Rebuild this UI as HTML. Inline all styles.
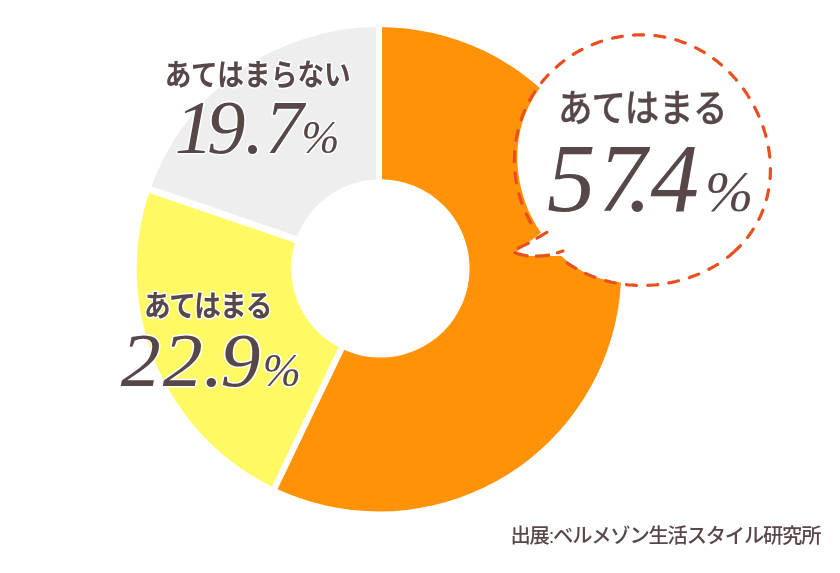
<!DOCTYPE html>
<html lang="ja">
<head>
<meta charset="utf-8">
<title>あてはまる 57.4%</title>
<style>
html,body{margin:0;padding:0;background:#fff;}
body{width:840px;height:573px;overflow:hidden;position:relative;}
svg{position:absolute;left:0;top:0;display:block;}
.lab{font-family:"Liberation Sans","Noto Sans CJK JP",sans-serif;font-weight:700;fill:#574748;}
.num{font-family:"Liberation Serif","Noto Serif CJK JP",serif;font-style:italic;font-weight:400;fill:#574748;}
.ol{paint-order:stroke fill;stroke:#fff;stroke-width:3px;stroke-linejoin:round;}
.lab3{font-weight:500;stroke:#574748;stroke-width:0.3px;stroke-linejoin:round;}
.src{font-family:"Liberation Sans","Noto Sans CJK JP",sans-serif;font-weight:500;fill:#574748;}
</style>
</head>
<body>
<svg width="840" height="573" viewBox="0 0 840 573">
<rect width="840" height="573" fill="#fff"/>
<path d="M379.0 269.2L379.00 26.90A242.3 242.3 0 1 1 274.31 487.71Z" fill="#ff9206"/>
<path d="M379.0 269.2L274.31 487.71A242.3 242.3 0 0 1 149.90 190.31Z" fill="#fffa64"/>
<path d="M379.0 269.2L149.90 190.31A242.3 242.3 0 0 1 379.00 26.90Z" fill="#eeeeee"/>
<line x1="379.00" y1="269.20" x2="379.00" y2="21.00" stroke="#fff" stroke-width="6.2"/>
<line x1="379.30" y1="269.40" x2="272.01" y2="493.51" stroke="#fff" stroke-width="6.3"/>
<line x1="379.00" y1="267.90" x2="143.72" y2="187.36" stroke="#fff" stroke-width="7.0"/>
<circle cx="380.4" cy="268.4" r="89.2" fill="#fff"/>
<path d="M768.1 160.4 768.3 163.7 768.4 167.0 768.4 170.3 768.3 173.7 768.2 177.0 767.9 180.3 767.5 183.6 767.1 186.9 766.5 190.2 765.8 193.5 765.1 196.8 764.2 200.0 763.2 203.3 762.2 206.4 761.0 209.6 759.7 212.7 758.3 215.8 756.9 218.8 755.3 221.8 753.6 224.7 751.9 227.6 750.1 230.4 748.1 233.2 746.1 235.9 744.0 238.5 741.8 241.1 739.6 243.6 737.3 246.0 734.9 248.3 732.4 250.6 729.9 252.8 727.3 254.9 724.7 257.0 722.0 258.9 719.2 260.8 716.5 262.6 713.6 264.3 710.8 266.0 707.9 267.6 704.9 269.0 702.0 270.5 699.0 271.8 695.9 273.1 692.9 274.3 689.8 275.4 686.7 276.4 683.6 277.4 680.5 278.3 677.4 279.1 674.2 279.8 671.0 280.5 667.9 281.1 664.7 281.7 661.5 282.1 658.3 282.5 655.1 282.8 651.9 283.1 648.6 283.3 645.4 283.4 642.2 283.5 639.0 283.5 635.8 283.4 632.5 283.3 629.3 283.1 626.1 282.9 622.9 282.5 619.6 282.2 616.4 281.7 613.2 281.3 610.0 280.7 606.8 280.0 603.6 279.3 600.4 278.5 597.2 277.5 594.1 276.5 591.0 275.4 588.0 274.1 585.0 272.6 582.1 271.0 579.3 269.4 576.5 267.6 573.7 265.8 571.1 263.9 568.4 262.0 565.8 259.9 563.3 257.8 560.9 255.6 558.5 253.4 556.2 251.1 553.9 248.7 551.7 246.2 549.6 243.7 547.6 241.2 545.6 238.7 543.5 236.1 541.6 233.5 539.7 230.8 537.9 228.1 536.2 225.4 534.6 222.6 533.0 219.7 531.5 216.8 530.1 213.9 528.7 210.9 527.4 207.9 526.3 204.9 525.1 201.9 524.1 198.8 523.2 195.7 522.3 192.5 521.4 189.4 520.6 186.2 519.9 183.1 519.3 179.9 518.8 176.6 518.4 173.4 518.0 170.2 517.7 166.9 517.5 163.7 517.4 160.4 517.4 157.1 517.4 153.9 517.5 150.6 517.7 147.3 518.0 144.1 518.4 140.8 518.9 137.5 519.5 134.3 520.1 131.1 520.9 127.9 521.7 124.7 522.6 121.5 523.7 118.4 524.8 115.3 526.1 112.3 527.4 109.3 528.8 106.3 530.3 103.4 531.9 100.5 533.5 97.6 535.2 94.8 537.0 92.1 538.9 89.4 540.8 86.7 542.8 84.1 544.9 81.6 547.0 79.1 549.3 76.7 551.5 74.4 553.9 72.1 556.2 69.8 558.7 67.7 561.2 65.6 563.7 63.5 566.4 61.6 569.0 59.7 571.7 57.8 574.4 56.1 577.2 54.4 580.1 52.8 582.9 51.2 585.8 49.8 588.8 48.4 591.7 47.1 594.7 45.8 597.8 44.7 600.8 43.6 603.9 42.6 607.0 41.6 610.2 40.8 613.3 40.0 616.5 39.3 619.6 38.7 622.8 38.2 626.1 37.8 629.3 37.4 632.5 37.1 635.7 37.0 639.0 36.9 642.2 36.8 645.4 36.9 648.7 37.1 651.9 37.3 655.1 37.6 658.3 38.1 661.5 38.6 664.7 39.1 667.8 39.8 671.0 40.6 674.1 41.4 677.2 42.4 680.2 43.4 683.3 44.5 686.3 45.6 689.2 46.9 692.1 48.2 695.0 49.6 697.9 51.1 700.7 52.7 703.4 54.3 706.2 56.0 708.8 57.8 711.5 59.6 714.0 61.5 716.6 63.5 719.0 65.5 721.4 67.6 723.8 69.8 726.1 72.0 728.4 74.2 730.6 76.5 732.7 78.9 734.8 81.3 736.9 83.7 738.8 86.2 740.8 88.8 742.6 91.4 744.5 94.0 746.2 96.7 747.9 99.4 749.5 102.1 751.1 104.9 752.6 107.7 754.1 110.6 755.5 113.5 756.8 116.4 758.1 119.4 759.3 122.4 760.4 125.4 761.5 128.4 762.5 131.5 763.4 134.6 764.3 137.8 765.1 140.9 765.8 144.1 766.4 147.3 766.9 150.6 767.4 153.8 767.8 157.1Z" fill="#fff"/>
<path d="M541.1 232.6L516.4 252Q520.5 255.3 527.8 255.9L561.3 256.1L585 262L585 225Z" fill="#fff"/>
<path d="M531.0 223.2 529.6 220.7 528.3 218.1 527.0 215.5 525.8 212.9 524.6 210.3 523.5 207.6 522.5 204.9 521.5 202.2 520.6 199.4 519.7 196.7 518.9 193.9 518.2 191.1 517.5 188.3 516.9 185.5 516.4 182.6 515.9 179.8 515.5 176.9 515.2 174.0 514.9 171.2 514.7 168.3 514.5 165.4 514.4 162.5 514.4 159.6 514.5 156.7 514.6 153.8 514.7 150.9 515.0 148.0 515.3 145.2 515.7 142.3 516.1 139.4 516.6 136.6 517.2 133.8 517.8 130.9 518.5 128.1 519.3 125.4 520.2 122.6 521.1 119.8 522.0 117.1 523.0 114.4 524.1 111.7 525.3 109.1 526.5 106.5 527.8 103.9 529.1 101.3 530.5 98.8 532.0 96.3 533.5 93.8 535.1 91.4 536.7 89.0 538.4 86.7 540.1 84.4 541.9 82.1 543.7 79.9 545.6 77.7 547.5 75.6 549.5 73.5 551.6 71.5 553.6 69.5 555.8 67.6 557.9 65.7 560.1 63.8 562.4 62.1 564.6 60.3 567.0 58.6 569.3 57.0 571.7 55.4 574.1 53.9 576.6 52.4 579.1 51.0 581.6 49.7 584.1 48.4 586.7 47.1 589.3 45.9 591.9 44.8 594.6 43.7 597.2 42.7 599.9 41.8 602.6 40.9 605.3 40.0 608.1 39.3 610.8 38.6 613.6 37.9 616.4 37.3 619.2 36.8 622.0 36.3 624.8 35.9 627.6 35.6 630.5 35.3 633.3 35.1 636.1 34.9 639.0 34.9 641.8 34.8 644.7 34.9 647.5 35.0 650.3 35.2 653.2 35.4 656.0 35.7 658.8 36.1 661.6 36.5 664.4 37.1 667.2 37.6 669.9 38.3 672.7 39.0 675.4 39.7 678.1 40.6 680.8 41.5 683.5 42.4 686.1 43.4 688.7 44.5 691.3 45.6 693.9 46.8 696.4 48.1 698.9 49.4 701.4 50.8 703.8 52.2 706.2 53.7 708.6 55.2 710.9 56.8 713.2 58.4 715.4 60.1 717.7 61.8 719.8 63.6 722.0 65.4 724.1 67.3 726.1 69.2 728.1 71.1 730.1 73.1 732.1 75.2 733.9 77.2 735.8 79.3 737.6 81.5 739.4 83.7 741.1 85.9 742.8 88.1 744.4 90.4 746.0 92.7 747.5 95.0 749.0 97.4 750.5 99.8 751.9 102.2 753.3 104.7 754.6 107.2 755.9 109.7 757.1 112.2 758.3 114.8 759.4 117.4 760.5 120.0 761.5 122.7 762.5 125.3 763.5 128.0 764.3 130.7 765.2 133.4 765.9 136.2 766.6 139.0 767.3 141.8 767.9 144.6 768.4 147.4 768.9 150.2 769.3 153.1 769.7 156.0 769.9 158.8 770.2 161.7 770.3 164.6 770.4 167.6 770.4 170.5 770.3 173.4 770.2 176.3 770.0 179.2 769.7 182.1 769.4 185.1 768.9 188.0 768.4 190.9 767.8 193.7 767.2 196.6 766.4 199.5 765.6 202.3 764.7 205.1 763.8 207.9 762.7 210.7 761.6 213.4 760.4 216.1 759.1 218.8 757.8 221.4 756.4 224.0 754.9 226.6 753.3 229.1 751.7 231.6 750.0 234.0 748.3 236.4 746.4 238.7 744.6 241.0 742.6 243.2 740.6 245.4 738.6 247.5 736.5 249.5 734.3 251.6 732.1 253.5 729.9 255.4 727.6 257.2 725.3 259.0 722.9 260.7 720.5 262.4 718.1 264.0 715.6 265.5 713.1 267.0 710.6 268.4 708.0 269.7 705.4 271.0 702.8 272.3 700.2 273.4 697.5 274.6 694.9 275.6 692.2 276.6 689.5 277.6 686.8 278.5 684.0 279.3 681.3 280.1 678.5 280.8 675.8 281.5 673.0 282.1 670.2 282.7 667.4 283.2 664.6 283.7 661.8 284.1 659.0 284.5 656.2 284.8 653.3 285.0 650.5 285.2 647.7 285.3 644.9 285.4 642.0 285.5 639.2 285.4 636.4 285.4 633.5 285.2 630.7 285.0 627.9 284.8 625.1 284.5 622.3 284.1 619.5 283.7 616.7 283.2 613.9 282.7 611.1 282.1 608.3 281.4 605.6 280.7 602.8 279.9 600.1 279.1 597.4 278.2 594.7 277.2 592.0 276.2 589.4 275.1 586.8 274.0 584.2 272.8 581.6 271.5 579.1 270.2 576.6 268.8 574.1 267.4 571.6 265.9 569.2 264.3 566.8 262.7" fill="none" stroke="#e8501f" stroke-width="3.2" stroke-linecap="round" stroke-dasharray="10.00 11.32 10.00 11.32 10.00 11.32 10.00 11.32 10.00 11.32 10.00 11.32 10.00 11.32 10.00 11.32 10.00 11.32 10.00 11.32 10.00 11.32 10.00 11.32 10.00 11.32 10.00 11.32 10.00 11.32 10.00 11.32 10.00 11.32 10.00 11.32 10.00 11.32 10.00 11.32 10.00 11.32 10.00 11.32 10.00 11.32 10.00 11.32 10.00 11.32 10.00 10.83 17.32 12.32 10.00 11.24 10.00 11.24 10.00 11.24 10.00 11.24 10.00 11.24 10.00 11.24 10.00 11.24 10.00 1000.00" stroke-dashoffset="-0.47"/>
<path d="M536.9 238.1L546.9 232.4" fill="none" stroke="#e8501f" stroke-width="3.2" stroke-linecap="round"/>
<path d="M518.2 248.1L528.3 243.4" fill="none" stroke="#e8501f" stroke-width="3.2" stroke-linecap="round"/>
<path d="M514.9 252.8Q520.5 255.2 527.2 255.8" fill="none" stroke="#e8501f" stroke-width="3.2" stroke-linecap="round"/>
<path d="M536.4 256.2Q543 256 548.5 255.1" fill="none" stroke="#e8501f" stroke-width="3.2" stroke-linecap="round"/>
<path d="M557.4 252.7L562.9 251.0" fill="none" stroke="#e8501f" stroke-width="3.2" stroke-linecap="round"/>
<text class="lab ol" transform="translate(164.80 85.25) scale(0.89 1)" font-size="30.0" textLength="208.99" lengthAdjust="spacing">あてはまらない</text>
<text class="num ol" transform="translate(0 153.3) scale(1.02 1)" font-size="75.5"><tspan x="171.4 202.9 239.9 259.8">19.7</tspan></text><text class="num ol" transform="translate(301.4 153.3) scale(1.0 1)" font-size="45.5">%</text>
<text class="lab ol" transform="translate(144.00 316.20) scale(0.89 1)" font-size="30.0" textLength="144.38" lengthAdjust="spacing">あてはまる</text>
<text class="num ol" transform="translate(0 386.0) scale(1.06 1)" font-size="75.5"><tspan x="114.0 153.6 191.7 208.0">22.9</tspan></text><text class="num ol" transform="translate(262.8 386.0) scale(1.0 1)" font-size="45.7">%</text>
<text class="lab lab3" transform="translate(558.00 121.40) scale(0.92 1)" font-size="37.5" textLength="184.24" lengthAdjust="spacing">あてはまる</text>
<text class="num" transform="translate(0 210.8) scale(1.0 1)" font-size="97"><tspan x="547.1 598.3 627.4 650.5">57.4</tspan></text><text class="num" transform="translate(705.0 210.8) scale(1.0 1)" font-size="58">%</text>
<text class="src" x="510.5" y="543.4" font-size="20.3" textLength="311" lengthAdjust="spacing">出展:ベルメゾン生活スタイル研究所</text>
</svg>
</body>
</html>
